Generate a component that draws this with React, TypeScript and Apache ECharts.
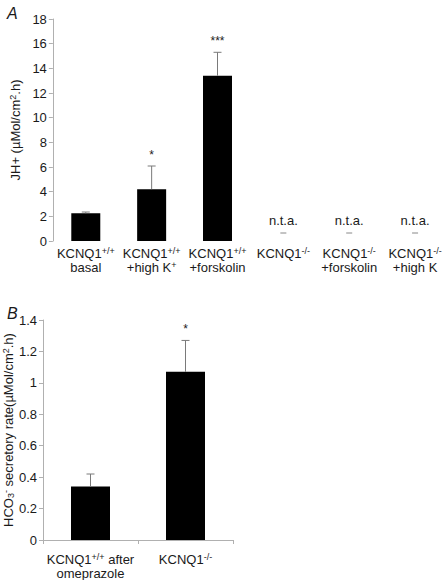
import React, { useEffect, useRef } from "react";
import * as echarts from "echarts";

// Panel A
const labelsA = [
  "KCNQ1{sup|+/+}\nbasal",
  "KCNQ1{sup|+/+}\n+high K{sup|+}",
  "KCNQ1{sup|+/+}\n+forskolin",
  "KCNQ1{sup|-/-}",
  "KCNQ1{sup|-/-}\n+forskolin",
  "KCNQ1{sup|-/-}\n+high K",
];
const valuesA: (number | null)[] = [2.25, 4.2, 13.4, null, null, null];
const errTopA: (number | null)[] = [2.35, 6.08, 15.3, null, null, null];
const marksA = ["", "*", "***", "n.t.a.", "n.t.a.", "n.t.a."];
const ticksA = { min: 0, max: 18, interval: 2 };

// Panel B
const labelsB = ["KCNQ1{sup|+/+} after\nomeprazole", "KCNQ1{sup|-/-}"];
const valuesB = [0.34, 1.07];
const errTopB = [0.42, 1.27];
const marksB = ["", "*"];
const ticksB = { min: 0, max: 1.4, interval: 0.2 };

const FONT = "'Liberation Sans', Arial, Helvetica, sans-serif";
const TXT = "#1a1a1a";
const AX = "#b0b0b0";
const ERR = "#7a7a7a";
const FS = 13;

const rich = {
  sup: { fontSize: 9, verticalAlign: "top" as const, lineHeight: 14, fontFamily: FONT, color: TXT },
  sub: { fontSize: 9, verticalAlign: "bottom" as const, lineHeight: 14, fontFamily: FONT, color: TXT },
};

export default function App() {
  const ref = useRef<HTMLDivElement>(null);
  useEffect(() => {
    document.body.style.margin = "0";
    if (!ref.current) return;
    const chart = echarts.init(ref.current, undefined, { renderer: "svg" });

    const errItem = (params: any, api: any) => {
      const i = api.value(0);
      const v = api.value(1);
      const hi = api.value(2);
      if (isNaN(v) || isNaN(hi)) return null;
      const p0 = api.coord([i, v]);
      const p1 = api.coord([i, hi]);
      return {
        type: "group",
        children: [
          { type: "line", shape: { x1: p0[0], y1: p0[1], x2: p1[0], y2: p1[1] }, style: { stroke: ERR, lineWidth: 1 } },
          { type: "line", shape: { x1: p1[0] - 4, y1: p1[1], x2: p1[0] + 4, y2: p1[1] }, style: { stroke: ERR, lineWidth: 1 } },
        ],
      };
    };

    const markItem = (params: any, api: any) => {
      const i = api.value(0);
      const hi = api.value(1);
      const txt = api.value(2);
      if (!txt) return null;
      if (txt === "n.t.a.") {
        const p = api.coord([i, 0]);
        return {
          type: "group",
          children: [
            {
              type: "text",
              x: p[0],
              y: p[1] - 21,
              style: { text: "n.t.a.", fill: TXT, font: `${FS}px ${FONT}`, align: "center", verticalAlign: "middle" },
            },
            { type: "line", shape: { x1: p[0] - 3, y1: p[1] - 8, x2: p[0] + 3, y2: p[1] - 8 }, style: { stroke: "#888", lineWidth: 1 } },
          ],
        };
      }
      const p = api.coord([i, hi]);
      return {
        type: "text",
        x: p[0],
        y: p[1] - 5,
        style: { text: txt, fill: TXT, font: `12px ${FONT}`, align: "center", verticalAlign: "bottom" },
      };
    };

    const yAxisCommon = {
      type: "value" as const,
      nameLocation: "middle" as const,
      nameRotate: 90,
      nameGap: 26,
      nameTextStyle: { fontFamily: FONT, fontSize: FS, color: TXT, rich },
      axisLine: { show: true, lineStyle: { color: AX } },
      axisTick: { show: true, length: 4, lineStyle: { color: AX } },
      splitLine: { show: false },
      axisLabel: { fontFamily: FONT, fontSize: FS, color: TXT, margin: 6 },
    };

    chart.setOption({
      animation: false,
      title: [
        { text: "A", left: 2, top: 0, textStyle: { fontFamily: FONT, fontSize: 16, fontStyle: "italic", fontWeight: "normal", color: TXT } },
        { text: "B", left: 2, top: 300, textStyle: { fontFamily: FONT, fontSize: 16, fontStyle: "italic", fontWeight: "normal", color: TXT } },
      ],
      grid: [
        { left: 43, top: 19, height: 222, right: -11 },
        { left: 43, top: 320, height: 220.5, width: 190 },
      ],
      xAxis: [
        {
          type: "category",
          gridIndex: 0,
          data: labelsA,
          axisLine: { show: false },
          axisTick: { show: false },
          axisLabel: { interval: 0, fontFamily: FONT, fontSize: FS, color: TXT, lineHeight: 14, margin: 5, rich },
        },
        {
          type: "category",
          gridIndex: 1,
          data: labelsB,
          axisLine: { show: true, lineStyle: { color: AX } },
          axisTick: { show: true, length: 4, lineStyle: { color: AX } },
          axisLabel: { interval: 0, fontFamily: FONT, fontSize: FS, color: TXT, lineHeight: 14, margin: 12, rich },
        },
      ],
      yAxis: [
        { ...yAxisCommon, gridIndex: 0, ...ticksA, name: "JH+ (µMol/cm{sup|2}.h)" },
        { ...yAxisCommon, gridIndex: 1, ...ticksB, name: "HCO{sub|3}{sup|-} secretory rate(µMol/cm{sup|2}.h)" },
      ],
      series: [
        { type: "bar", xAxisIndex: 0, yAxisIndex: 0, data: valuesA, barWidth: 29, itemStyle: { color: "#000" } },
        {
          type: "custom",
          xAxisIndex: 0,
          yAxisIndex: 0,
          renderItem: errItem,
          data: valuesA.map((v, i) => [i, v == null ? NaN : v, errTopA[i] == null ? NaN : errTopA[i]]),
          z: 3,
        },
        {
          type: "custom",
          xAxisIndex: 0,
          yAxisIndex: 0,
          renderItem: markItem,
          data: marksA.map((m, i) => [i, errTopA[i] == null ? 0 : errTopA[i], m]),
          z: 4,
        },
        { type: "bar", xAxisIndex: 1, yAxisIndex: 1, data: valuesB, barWidth: 39, itemStyle: { color: "#000" } },
        {
          type: "custom",
          xAxisIndex: 1,
          yAxisIndex: 1,
          renderItem: errItem,
          data: valuesB.map((v, i) => [i, v, errTopB[i]]),
          z: 3,
        },
        {
          type: "custom",
          xAxisIndex: 1,
          yAxisIndex: 1,
          renderItem: markItem,
          data: marksB.map((m, i) => [i, errTopB[i], m]),
          z: 4,
        },
      ],
    });
    return () => chart.dispose();
  }, []);
  return <div ref={ref} style={{ width: 448, height: 580 }} />;
}
